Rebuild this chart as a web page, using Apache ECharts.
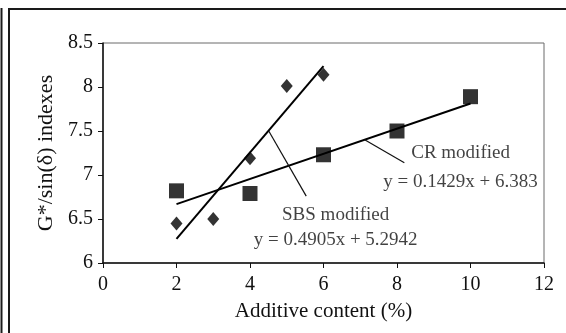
<!DOCTYPE html>
<html>
<head>
<meta charset="utf-8">
<script src="https://cdn.jsdelivr.net/npm/echarts@6/dist/echarts.min.js"></script>
<style>
  html, body { margin: 0; padding: 0; background: #fff; }
  #chart { width: 566px; height: 333px; }
</style>
</head>
<body>
<div id="chart"></div>
<script>
// Additive content (%) and measured G*/sin(δ) for each modifier
const sbsContent = [2, 3, 4, 5, 6];
const sbsValues = [6.45, 6.50, 7.19, 8.01, 8.14];
const crContent = [2, 4, 6, 8, 10];
const crValues = [6.82, 6.79, 7.23, 7.50, 7.89];

// Linear fits shown next to each series: y = slope * x + intercept
const sbsFit = [0.4905, 5.2942];
const crFit = [0.1429, 6.383];

const xTicks = [0, 2, 4, 6, 8, 10, 12];
const yTicks = [6, 6.5, 7, 7.5, 8, 8.5];

const serif = '"Liberation Serif", "Times New Roman", serif';

function fitLine(fit, xs) {
  const x0 = Math.min(...xs), x1 = Math.max(...xs);
  return [[x0, fit[0] * x0 + fit[1]], [x1, fit[0] * x1 + fit[1]]];
}
function fmt(fit) {
  return 'y = ' + fit[0] + 'x + ' + fit[1];
}

const chart = echarts.init(document.getElementById('chart'), null, { renderer: 'canvas' });

const textSeries = (x, lines) => ({
  type: 'scatter',
  symbolSize: 0,
  silent: true,
  z: 5,
  data: lines.map(l => ({ value: [x, l.y], label: { formatter: l.text } })),
  label: {
    show: true,
    position: 'inside',
    color: '#111',
    fontFamily: serif,
    fontSize: 19
  }
});

const option = {
  backgroundColor: '#fff',
  animation: false,
  grid: {
    left: 103, right: 22, top: 43, bottom: 70,
    show: true, borderColor: '#6a6a6a', borderWidth: 1
  },
  xAxis: {
    type: 'value',
    min: xTicks[0], max: xTicks[xTicks.length - 1], interval: 2,
    name: 'Additive content (%)',
    nameLocation: 'middle', nameGap: 38,
    nameTextStyle: { fontFamily: serif, fontSize: 21, color: '#111' },
    axisLine: { show: true, onZero: false, lineStyle: { color: '#111', width: 1.5 } },
    axisTick: { show: true, inside: false, length: 5, lineStyle: { color: '#111' } },
    axisLabel: { fontFamily: serif, fontSize: 20, color: '#111', margin: 12 },
    splitLine: { show: false }
  },
  yAxis: {
    type: 'value',
    min: yTicks[0], max: yTicks[yTicks.length - 1], interval: 0.5,
    name: 'G*/sin(δ) indexes',
    nameLocation: 'middle', nameGap: 46,
    nameTextStyle: { fontFamily: serif, fontSize: 22, color: '#111' },
    axisLine: { show: true, onZero: false, lineStyle: { color: '#111', width: 1.5 } },
    axisTick: { show: true, inside: false, length: 5, lineStyle: { color: '#111' } },
    axisLabel: { fontFamily: serif, fontSize: 20, color: '#111', margin: 10 },
    splitLine: { show: false }
  },
  series: [
    {
      name: 'SBS modified',
      type: 'scatter',
      symbol: 'diamond',
      symbolSize: [12, 14],
      itemStyle: { color: '#000' },
      z: 4,
      data: sbsContent.map((x, i) => [x, sbsValues[i]])
    },
    {
      name: 'CR modified',
      type: 'scatter',
      symbol: 'rect',
      symbolSize: 15,
      itemStyle: { color: '#000' },
      z: 4,
      data: crContent.map((x, i) => [x, crValues[i]])
    },
    {
      type: 'line', silent: true, symbol: 'none', z: 3,
      lineStyle: { color: '#000', width: 2 },
      data: fitLine(sbsFit, sbsContent)
    },
    {
      type: 'line', silent: true, symbol: 'none', z: 3,
      lineStyle: { color: '#000', width: 2 },
      data: fitLine(crFit, crContent)
    },
    // leader lines from each fit to its caption
    {
      type: 'line', silent: true, symbol: 'none', z: 3,
      lineStyle: { color: '#111', width: 1.2 },
      data: [[4.51, 7.5], [5.53, 6.76]]
    },
    {
      type: 'line', silent: true, symbol: 'none', z: 3,
      lineStyle: { color: '#111', width: 1.2 },
      data: [[7.12, 7.40], [8.2, 7.14]]
    },
    textSeries(6.33, [
      { y: 6.55, text: 'SBS modified' },
      { y: 6.265, text: fmt(sbsFit) }
    ]),
    textSeries(9.73, [
      { y: 7.255, text: 'CR modified' },
      { y: 6.925, text: fmt(crFit) }
    ])
  ],
  graphic: [
    { type: 'line', shape: { x1: 1.5, y1: 8, x2: 1.5, y2: 333 }, style: { stroke: '#1a1a1a', lineWidth: 2 } },
    { type: 'line', shape: { x1: 9, y1: 8, x2: 9, y2: 333 }, style: { stroke: '#1a1a1a', lineWidth: 2 } },
    { type: 'line', shape: { x1: 8, y1: 9, x2: 566, y2: 9 }, style: { stroke: '#1a1a1a', lineWidth: 2 } }
  ]
};

chart.setOption(option);
</script>
</body>
</html>
